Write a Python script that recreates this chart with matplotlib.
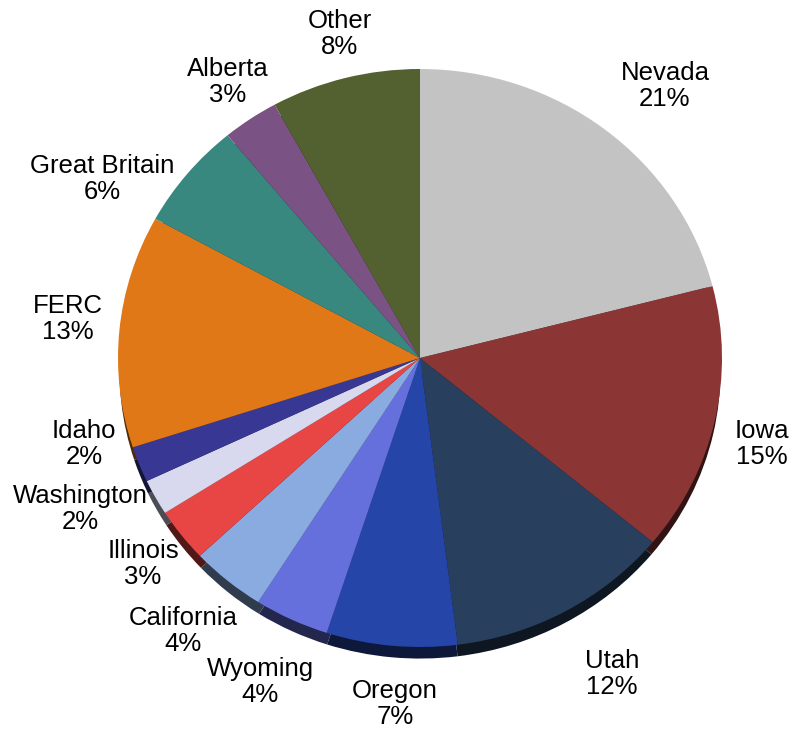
import matplotlib
matplotlib.use("Agg")
import matplotlib.pyplot as plt
import numpy as np
from matplotlib.colors import to_rgb

plt.rcParams['font.family'] = ['Liberation Sans', 'DejaVu Sans']

categories = ["Nevada", "Iowa", "Utah", "Oregon", "Wyoming", "California",
              "Illinois", "Washington", "Idaho", "FERC", "Great Britain",
              "Alberta", "Other"]
shares = [21, 15, 12, 7, 4, 4, 3, 2, 2, 13, 6, 3, 8]
colors = ["#c3c3c3", "#8b3535", "#283f5e", "#2545a8", "#6570dc", "#8aabe0",
          "#e84545", "#d8d8ef", "#383894", "#e07818", "#388880",
          "#7a5283", "#536130"]

# label text centres in pixels (x, y from top)
label_pos = [(665, 86), (762, 444), (612, 674), (395, 704), (260, 682),
             (183, 631), (143, 564), (80, 509), (84, 444), (68, 319),
             (102, 179), (228, 82), (340, 34)]

W, H = 789, 736
fig = plt.figure(figsize=(W / 100, H / 100), dpi=100)
cx, cy, rx, ry = 420, 358, 302, 289
ax = fig.add_axes([(cx - rx) / W, (H - (cy + ry)) / H, 2 * rx / W, 2 * ry / H])

dark = [tuple(np.array(to_rgb(c)) * 0.35) for c in colors]
ax.pie(shares, colors=dark, startangle=90, counterclock=False,
       center=(0, -0.045), radius=0.995, wedgeprops=dict(linewidth=0))
ax.pie(shares, colors=colors, startangle=90, counterclock=False,
       center=(0, 0), radius=1.0, wedgeprops=dict(linewidth=0))
ax.set_aspect('auto')
ax.set_xlim(-1, 1)
ax.set_ylim(-1, 1)
ax.axis('off')

for name, val, (px, py) in zip(categories, shares, label_pos):
    fig.text(px / W, 1 - py / H, f"{name}\n{val}%", ha='center', va='center',
             fontsize=18.5, linespacing=1.08, color='black')

fig.savefig("out.png", dpi=100)
